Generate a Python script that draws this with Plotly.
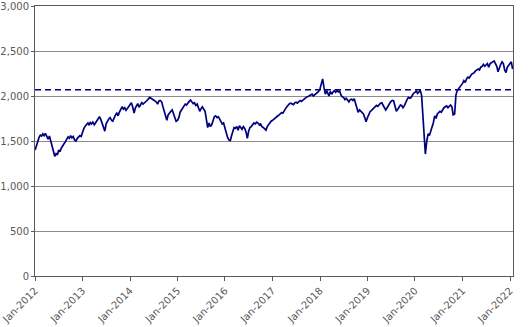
import plotly.graph_objects as go
import pandas as pd

# ---- data (~3 points per month) ----
years = list(range(2012, 2023))
values_2012 = [1400, 1450, 1510, 1540, 1565, 1555, 1580, 1560, 1585, 1540, 1520, 1555,
               1500, 1450, 1390, 1330, 1360, 1345, 1400, 1380, 1420, 1440, 1470, 1490,
               1520, 1545, 1530, 1560, 1535, 1550, 1510, 1500, 1530, 1545, 1560, 1550]
values_2013 = [1610, 1640, 1665, 1680, 1700, 1675, 1705, 1690, 1710, 1680, 1700, 1720,
               1750, 1770, 1740, 1700, 1650, 1610, 1690, 1720, 1745, 1760, 1730, 1720,
               1760, 1790, 1810, 1780, 1820, 1860, 1880, 1855, 1870, 1840, 1860, 1890]
values_2014 = [1915, 1925, 1880, 1810, 1870, 1900, 1915, 1875, 1895, 1925, 1910, 1920,
               1930, 1950, 1965, 1985, 1975, 1965, 1960, 1940, 1935, 1910, 1945, 1950,
               1935, 1880, 1830, 1780, 1730, 1790, 1820, 1830, 1845, 1800, 1760, 1720]
values_2015 = [1730, 1760, 1820, 1850, 1870, 1895, 1910, 1900, 1925, 1940, 1955, 1935,
               1915, 1925, 1895, 1910, 1870, 1830, 1860, 1880, 1855, 1830, 1740, 1650,
               1700, 1660, 1680, 1720, 1770, 1780, 1760, 1770, 1745, 1720, 1690, 1700]
values_2016 = [1640, 1580, 1540, 1510, 1505, 1560, 1610, 1650, 1640, 1660, 1620, 1670,
               1650, 1630, 1660, 1640, 1600, 1530, 1610, 1650, 1660, 1680, 1700, 1690,
               1710, 1700, 1680, 1690, 1660, 1650, 1630, 1620, 1660, 1680, 1710, 1720]
values_2017 = [1730, 1745, 1750, 1765, 1780, 1790, 1800, 1815, 1810, 1830, 1860, 1880,
               1900, 1915, 1920, 1915, 1905, 1925, 1930, 1920, 1940, 1950, 1940, 1955,
               1965, 1975, 1990, 1995, 2005, 2010, 2020, 2000, 2015, 2030, 2040, 2050]
values_2018 = [2080, 2130, 2190, 2090, 2020, 2060, 2040, 2000, 2050, 2020, 2045, 2060,
               2040, 2060, 2045, 2055, 2010, 1990, 1985, 1960, 1975, 1950, 1935, 1960,
               1965, 1950, 1970, 1920, 1860, 1820, 1845, 1830, 1810, 1800, 1760, 1715]
values_2019 = [1760, 1800, 1825, 1840, 1855, 1870, 1880, 1895, 1885, 1905, 1920, 1925,
               1900, 1870, 1845, 1870, 1905, 1920, 1940, 1950, 1945, 1870, 1830, 1850,
               1880, 1900, 1895, 1870, 1890, 1930, 1960, 1985, 1975, 1980, 2010, 2030]
values_2020 = [2040, 2055, 2030, 2045, 2060, 2010, 1830, 1620, 1355, 1500, 1580, 1560,
               1610, 1640, 1700, 1780, 1750, 1800, 1810, 1830, 1820, 1850, 1870, 1880,
               1890, 1870, 1880, 1900, 1880, 1790, 1800, 2010, 2060, 2080, 2100, 2110]
values_2021 = [2140, 2170, 2150, 2190, 2210, 2200, 2220, 2240, 2250, 2260, 2280, 2290,
               2300, 2290, 2320, 2330, 2350, 2330, 2340, 2360, 2320, 2360, 2370, 2385,
               2390, 2360, 2330, 2270, 2320, 2350, 2380, 2360, 2290, 2260, 2320, 2340]
values_2022 = [2360, 2380, 2300]

days = [1, 11, 21]
average_level = 2070
x_start, x_end = "2012-01-01", "2022-01-24"

all_values = (values_2012 + values_2013 + values_2014 + values_2015 + values_2016 +
              values_2017 + values_2018 + values_2019 + values_2020 + values_2021 +
              values_2022)
dates = []
for y in years:
    for m in range(1, 13):
        for d in days:
            dates.append(pd.Timestamp(year=y, month=m, day=d))
dates = dates[:len(all_values)]
dates[0] = pd.Timestamp("2012-01-02")

navy = "#000080"
fig = go.Figure()
fig.add_trace(go.Scatter(x=[x_start, x_end], y=[average_level, average_level],
                         mode="lines", line=dict(color=navy, width=1.5, dash="6px,4px"),
                         hoverinfo="skip"))
fig.add_trace(go.Scatter(x=dates, y=all_values, mode="lines",
                         line=dict(color=navy, width=1.7)))

font = dict(family="DejaVu Sans, Verdana, sans-serif", size=10, color="#595959")
fig.update_layout(
    width=529, height=327,
    margin=dict(l=35, r=16, t=6, b=51),
    paper_bgcolor="white", plot_bgcolor="white",
    showlegend=False,
    font=font,
    xaxis=dict(
        type="date", range=[x_start, x_end], automargin=False,
        tickvals=[f"{y}-01-01" for y in years],
        ticktext=[f"Jan-{y}" for y in years],
        tickangle=-45, ticks="outside", ticklen=4, tickcolor="#595959",
        ticklabeloverflow="allow",
        showgrid=False, showline=True, linecolor="#595959", linewidth=1,
        mirror=True, zeroline=False,
    ),
    yaxis=dict(
        range=[0, 3000], dtick=500, tickformat=",", automargin=False,
        ticks="outside", ticklen=3, tickcolor="#595959",
        ticklabeloverflow="allow",
        showgrid=True, gridcolor="#8c8c8c", gridwidth=1,
        showline=True, linecolor="#595959", linewidth=1,
        mirror=True, zeroline=False,
    ),
)
fig.write_html("out.html")
